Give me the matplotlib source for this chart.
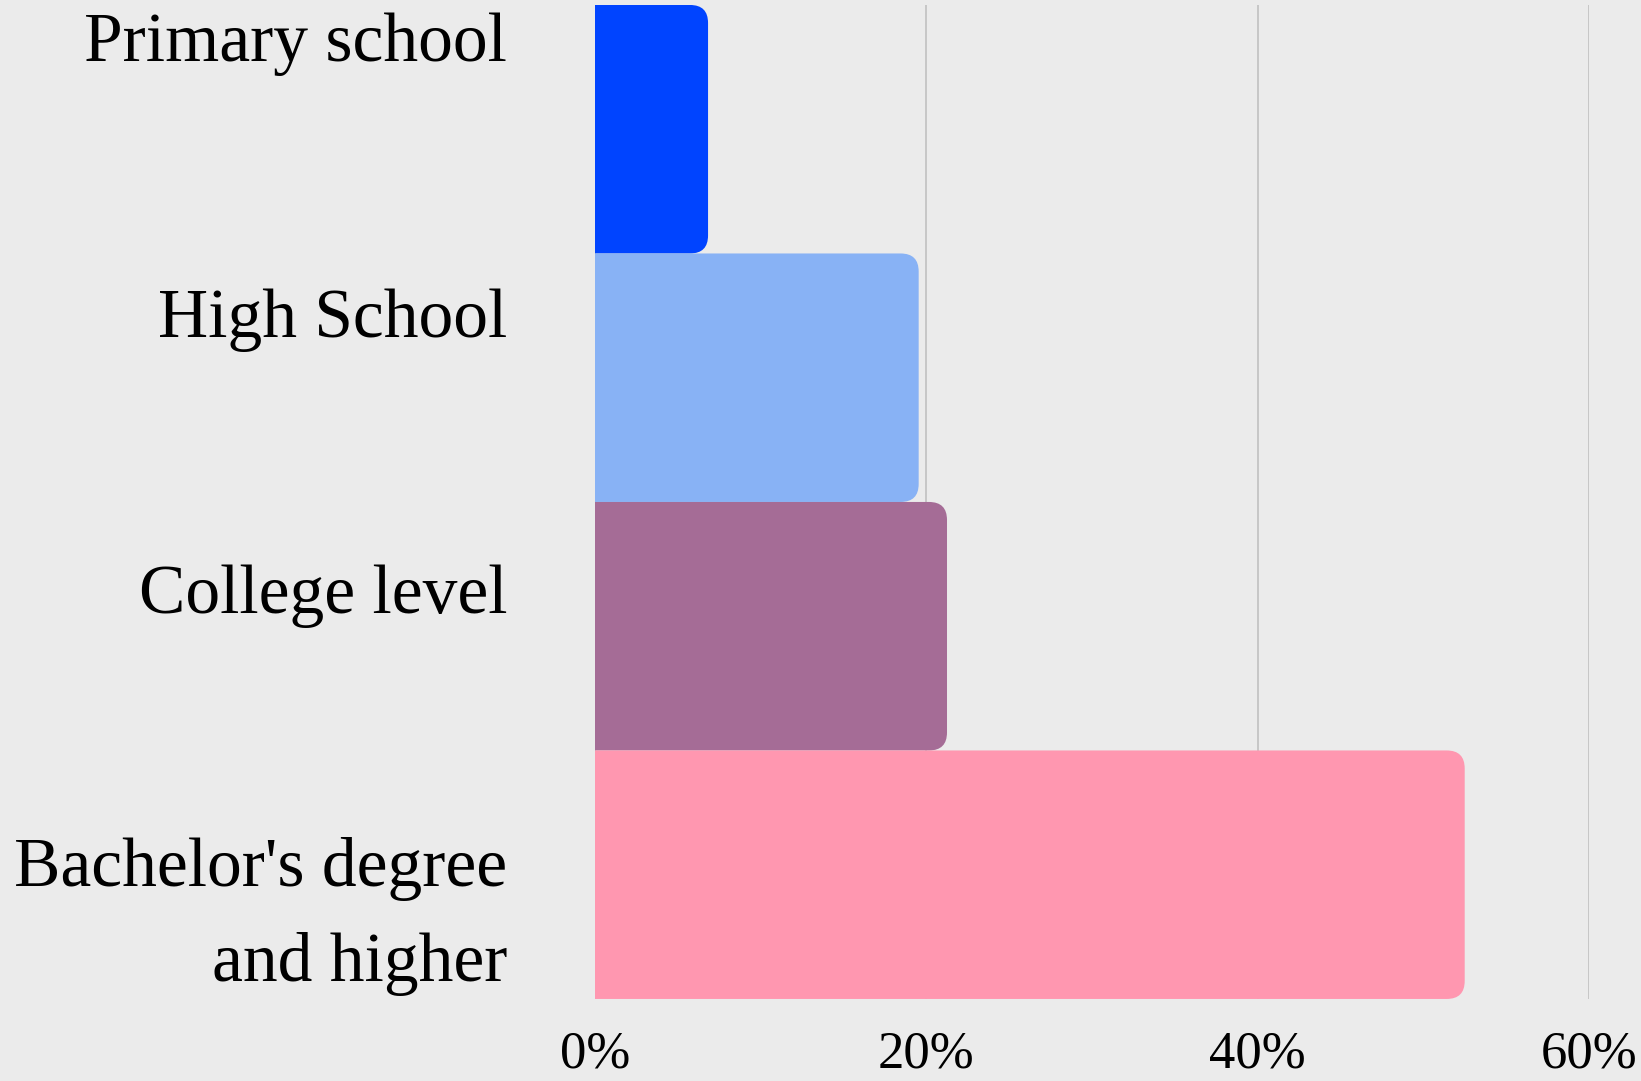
import numpy as np
import matplotlib
matplotlib.use("Agg")
import matplotlib.pyplot as plt
from matplotlib.patches import FancyBboxPatch

levels = ["Primary school", "High School", "College level", "Bachelor's degree\nand higher"]
shares = [6.84, 19.55, 21.26, 52.5]
colors = ["#0044ff", "#88b2f5", "#a56c96", "#ff97b0"]
xticks = [0, 20, 40, 60]
xticklabels = ["0%", "20%", "40%", "60%"]

bg = "#ebebeb"
plt.rcParams["font.family"] = ["Liberation Serif", "DejaVu Serif"]

fig = plt.figure(figsize=(16.41, 10.81), dpi=100, facecolor=bg)
ax = fig.add_axes([0.3624, 0.0759, 0.6059, 0.9195])
ax.set_facecolor(bg)

ypos = np.arange(len(levels))
bars = ax.barh(ypos, shares, height=1.0, color=colors)

ax.set_xlim(0, 60)
ax.set_ylim(len(levels) - 0.5, -0.5)

# swap the plain bars for ones rounded on the right end
fig.canvas.draw()
bb = ax.get_window_extent()
aspect = (len(levels) / bb.height) / (60 / bb.width)
r = 18 * 60 / bb.width
for rect, c in zip(bars, colors):
    x0, y0 = rect.get_x(), rect.get_y()
    w, h = rect.get_width(), rect.get_height()
    rect.set_visible(False)
    p = FancyBboxPatch((x0 - r, y0), w + r, h,
                       boxstyle=f"round,pad=0,rounding_size={r}",
                       mutation_aspect=aspect, fc=c, ec="none", zorder=2)
    ax.add_patch(p)

ax.set_xticks(xticks)
ax.set_xticklabels(xticklabels, fontsize=38)
ax.tick_params(axis="x", length=0, pad=23)
ax.set_yticks([])
ax.grid(axis="x", color="#bdbdbd", linewidth=1.1)
ax.set_axisbelow(True)
for s in ax.spines.values():
    s.set_visible(False)

# category labels, spaced a bit wider than the bars
line_px = 92
for i, lab in enumerate(levels):
    extra = (lab.count("\n") * line_px) / bb.height
    ax.text(-0.0882, 1 - 0.0563 - 0.2777 * i - extra, lab, transform=ax.transAxes,
            ha="right", va="baseline", fontsize=50, linespacing=1.64,
            multialignment="right")

fig.savefig("out.png", dpi=100, facecolor=bg)
